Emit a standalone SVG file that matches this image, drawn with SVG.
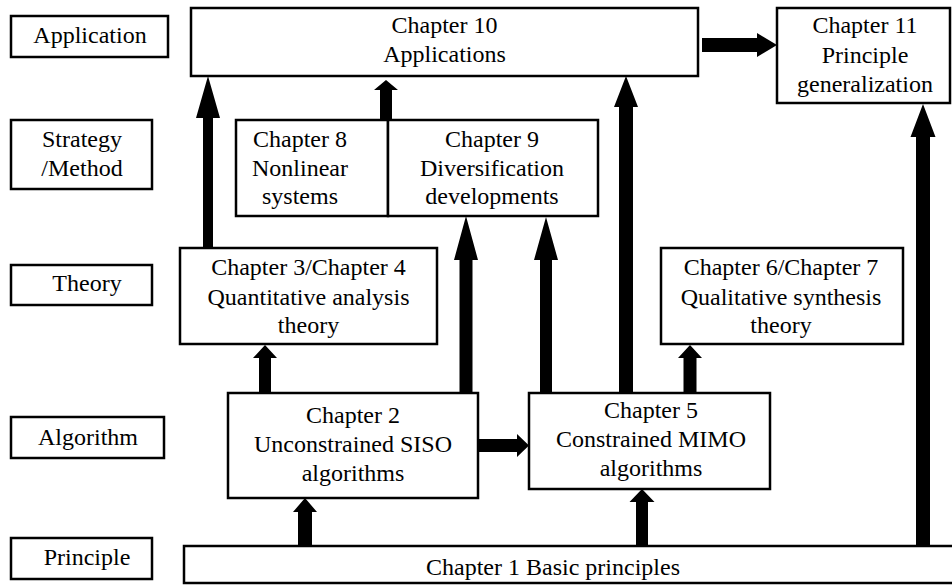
<svg xmlns="http://www.w3.org/2000/svg" width="952" height="585" viewBox="0 0 952 585">
<style>
.box{fill:#fff;stroke:#000;stroke-width:2.5}
.t{font-size:24px;fill:#000;text-anchor:middle}
.arr{fill:#000}
</style>
<rect width="952" height="585" fill="#fff"/>
<g font-family="Liberation Serif, Times New Roman, DejaVu Serif, serif">
<g id="lvl-application"><rect class="box" x="11" y="16" width="157" height="41"/><text class="t" x="90" y="43">Application</text></g>
<g id="lvl-strategy"><rect class="box" x="11" y="120" width="141" height="69"/><text class="t" x="82" y="147">Strategy</text><text class="t" x="82" y="176">/Method</text></g>
<g id="lvl-theory"><rect class="box" x="11" y="265" width="141" height="40"/><text class="t" x="87" y="291">Theory</text></g>
<g id="lvl-algorithm"><rect class="box" x="11" y="417" width="153" height="41"/><text class="t" x="88" y="445">Algorithm</text></g>
<g id="lvl-principle"><rect class="box" x="11" y="538" width="141" height="41"/><text class="t" x="87" y="565">Principle</text></g>

<g id="ch10"><rect class="box" x="191" y="8" width="507" height="68"/><text class="t" x="444.5" y="33">Chapter 10</text><text class="t" x="444.5" y="62">Applications</text></g>
<g id="ch11"><rect class="box" x="777" y="8" width="173" height="95"/><text class="t" x="865" y="33">Chapter 11</text><text class="t" x="865" y="63">Principle</text><text class="t" x="865" y="92">generalization</text></g>
<g id="ch8"><rect class="box" x="236" y="120" width="152" height="96"/><text class="t" x="300" y="147">Chapter 8</text><text class="t" x="300" y="176">Nonlinear</text><text class="t" x="300" y="204">systems</text></g>
<g id="ch9"><rect class="box" x="388" y="120" width="210" height="96"/><text class="t" x="492" y="147">Chapter 9</text><text class="t" x="492" y="176">Diversification</text><text class="t" x="492" y="204">developments</text></g>
<g id="ch3-4"><rect class="box" x="180" y="248" width="257" height="96"/><text class="t" x="308.5" y="275">Chapter 3/Chapter 4</text><text class="t" x="308.5" y="305">Quantitative analysis</text><text class="t" x="308.5" y="333">theory</text></g>
<g id="ch6-7"><rect class="box" x="661" y="248" width="242" height="96"/><text class="t" x="781" y="275">Chapter 6/Chapter 7</text><text class="t" x="781" y="305">Qualitative synthesis</text><text class="t" x="781" y="333">theory</text></g>
<g id="ch2"><rect class="box" x="228" y="393" width="250" height="105"/><text class="t" x="353" y="423">Chapter 2</text><text class="t" x="353" y="452">Unconstrained SISO</text><text class="t" x="353" y="481">algorithms</text></g>
<g id="ch5"><rect class="box" x="529" y="393" width="241" height="96"/><text class="t" x="651" y="418">Chapter 5</text><text class="t" x="651" y="447">Constrained MIMO</text><text class="t" x="651" y="476">algorithms</text></g>
<g id="ch1"><rect class="box" x="184" y="546" width="780" height="37"/><text class="t" x="553" y="575">Chapter 1 Basic principles</text></g>
</g>
<g id="connectors">
<polygon class="arr" points="203,248 203,118 196,118 208,76 220,118 213,118 213,248"/>
<polygon class="arr" points="380,120 380,90 374,90 386,80 398,90 392,90 392,120"/>
<polygon class="arr" points="459.5,393 459.5,260 454,260 466,216 478,260 472.5,260 472.5,393"/>
<polygon class="arr" points="540,393 540,260 534,260 546,217 558,260 552,260 552,393"/>
<polygon class="arr" points="619,393 619,107 614,107 626,76 638,107 633,107 633,393"/>
<polygon class="arr" points="916,546 916,137 910.5,137 923,104 935.5,137 930,137 930,546"/>
<polygon class="arr" points="259,393 259,358 253,358 265,345 277,358 271,358 271,393"/>
<polygon class="arr" points="683.5,393 683.5,358 678,358 690,345 702,358 696.5,358 696.5,393"/>
<polygon class="arr" points="298,546 298,512 293,512 305,498 317,512 312,512 312,546"/>
<polygon class="arr" points="636,546 636,502 629.5,502 642,489 654.5,502 648,502 648,546"/>
<polygon class="arr" points="702,38 757,38 757,33 777,45 757,57 757,52 702,52"/>
<polygon class="arr" points="478,439 517,439 517,434 529,445.5 517,457 517,452 478,452"/>
</g>
</svg>
